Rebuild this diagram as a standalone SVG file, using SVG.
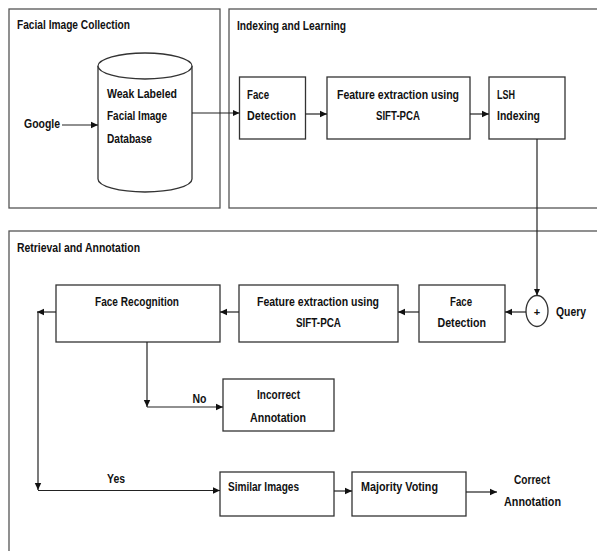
<svg xmlns="http://www.w3.org/2000/svg" width="597" height="551" viewBox="0 0 597 551">
<style>
.panel{fill:none;stroke:#555;stroke-width:1.3}
.box{fill:#fff;stroke:#333;stroke-width:1.3}
.t{font-family:"Liberation Sans",Arial,sans-serif;font-weight:bold;font-size:13.5px;fill:#111}
.h{font-family:"Liberation Sans",Arial,sans-serif;font-weight:bold;font-size:12.5px;fill:#111}
.c{fill:none;stroke:#222;stroke-width:1.2}
</style>
<defs>
<marker id="ah" markerWidth="8" markerHeight="8" refX="7" refY="4" orient="auto" markerUnits="userSpaceOnUse">
<path d="M0,0.8 L7,4 L0,7.2 Z" fill="#111"/>
</marker>
</defs>
<rect width="597" height="551" fill="#fff"/>

<g id="panel-collection">
<rect class="panel" x="9" y="9" width="211" height="199"/>
<text class="h" x="17" y="29.3" textLength="113" lengthAdjust="spacingAndGlyphs">Facial Image Collection</text>
</g>
<g id="panel-indexing">
<rect class="panel" x="229" y="9" width="400" height="199"/>
<text class="h" x="237" y="29.5" textLength="109" lengthAdjust="spacingAndGlyphs">Indexing and Learning</text>
</g>
<g id="panel-retrieval">
<rect class="panel" x="9" y="231" width="620" height="400"/>
<text class="h" x="17" y="252" textLength="123" lengthAdjust="spacingAndGlyphs">Retrieval and Annotation</text>
</g>

<g id="google">
<text class="t" x="24" y="128" textLength="36" lengthAdjust="spacingAndGlyphs">Google</text>
</g>

<g id="database">
<path class="box" d="M98,66 V179 A47,13 0 0 0 192,179 V66"/>
<ellipse class="box" cx="145" cy="66" rx="47" ry="13"/>
<text class="t" x="107" y="98" textLength="70" lengthAdjust="spacingAndGlyphs">Weak Labeled</text>
<text class="t" x="107" y="120" textLength="60" lengthAdjust="spacingAndGlyphs">Facial Image</text>
<text class="t" x="107" y="142.5" textLength="45" lengthAdjust="spacingAndGlyphs">Database</text>
</g>

<g id="face-detection-1">
<rect class="box" x="239.5" y="77" width="66" height="62"/>
<text class="t" x="247" y="99" textLength="22" lengthAdjust="spacingAndGlyphs">Face</text>
<text class="t" x="247" y="120" textLength="49" lengthAdjust="spacingAndGlyphs">Detection</text>
</g>

<g id="feature-extraction-1">
<rect class="box" x="327" y="77" width="143" height="62"/>
<text class="t" x="337" y="99" textLength="122" lengthAdjust="spacingAndGlyphs">Feature extraction using</text>
<text class="t" x="376" y="120" textLength="44" lengthAdjust="spacingAndGlyphs">SIFT-PCA</text>
</g>

<g id="lsh-indexing">
<rect class="box" x="489" y="77" width="76" height="62"/>
<text class="t" x="497" y="99" textLength="18" lengthAdjust="spacingAndGlyphs">LSH</text>
<text class="t" x="497" y="120" textLength="43" lengthAdjust="spacingAndGlyphs">Indexing</text>
</g>

<g id="query">
<ellipse class="box" cx="537" cy="311" rx="11" ry="15.5"/>
<text class="t" x="537" y="316" text-anchor="middle" style="font-size:11px">+</text>
<text class="t" x="556" y="316" textLength="30" lengthAdjust="spacingAndGlyphs">Query</text>
</g>

<g id="face-detection-2">
<rect class="box" x="419" y="285" width="86" height="57"/>
<text class="t" x="450" y="305.5" textLength="22" lengthAdjust="spacingAndGlyphs">Face</text>
<text class="t" x="437.5" y="326.5" textLength="48.5" lengthAdjust="spacingAndGlyphs">Detection</text>
</g>

<g id="feature-extraction-2">
<rect class="box" x="239" y="285" width="159" height="57"/>
<text class="t" x="257" y="305.5" textLength="122" lengthAdjust="spacingAndGlyphs">Feature extraction using</text>
<text class="t" x="296" y="326.5" textLength="45" lengthAdjust="spacingAndGlyphs">SIFT-PCA</text>
</g>

<g id="face-recognition">
<rect class="box" x="56" y="285" width="164" height="57"/>
<text class="t" x="95" y="305.5" textLength="84" lengthAdjust="spacingAndGlyphs">Face Recognition</text>
</g>

<g id="incorrect-annotation">
<rect class="box" x="223" y="379" width="111" height="52"/>
<text class="t" x="257" y="399" textLength="43" lengthAdjust="spacingAndGlyphs">Incorrect</text>
<text class="t" x="250" y="421.5" textLength="56" lengthAdjust="spacingAndGlyphs">Annotation</text>
</g>

<g id="similar-images">
<rect class="box" x="220" y="472" width="114" height="44"/>
<text class="t" x="228" y="490.5" textLength="71" lengthAdjust="spacingAndGlyphs">Similar Images</text>
</g>

<g id="majority-voting">
<rect class="box" x="352" y="472" width="114" height="44"/>
<text class="t" x="361" y="490.5" textLength="77" lengthAdjust="spacingAndGlyphs">Majority Voting</text>
</g>

<g id="correct-annotation">
<text class="t" x="514" y="484" textLength="36" lengthAdjust="spacingAndGlyphs">Correct</text>
<text class="t" x="504" y="505.5" textLength="57" lengthAdjust="spacingAndGlyphs">Annotation</text>
</g>

<g id="labels">
<text class="t" x="192.5" y="403" textLength="14" lengthAdjust="spacingAndGlyphs">No</text>
<text class="t" x="107" y="483" textLength="18" lengthAdjust="spacingAndGlyphs">Yes</text>
</g>

<g id="connectors">
<path class="c" d="M62,125 H98" marker-end="url(#ah)"/>
<path class="c" d="M192,113 H239.5" marker-end="url(#ah)"/>
<path class="c" d="M305.5,114 H327" marker-end="url(#ah)"/>
<path class="c" d="M470,114 H489" marker-end="url(#ah)"/>
<path class="c" d="M537,139 V295.5" marker-end="url(#ah)"/>
<path class="c" d="M526,312 H505" marker-end="url(#ah)"/>
<path class="c" d="M419,312 H398" marker-end="url(#ah)"/>
<path class="c" d="M239,312 H220" marker-end="url(#ah)"/>
<path class="c" d="M56,312 H37" marker-end="url(#ah)"/>
<path class="c" d="M38,312 V490" marker-end="url(#ah)"/>
<path class="c" d="M38,490.5 H220" marker-end="url(#ah)"/>
<path class="c" d="M147,342 V407" marker-end="url(#ah)"/>
<path class="c" d="M147,407 H223" marker-end="url(#ah)"/>
<path class="c" d="M334,491 H352" marker-end="url(#ah)"/>
<path class="c" d="M466,492 H497" marker-end="url(#ah)"/>
</g>
</svg>
